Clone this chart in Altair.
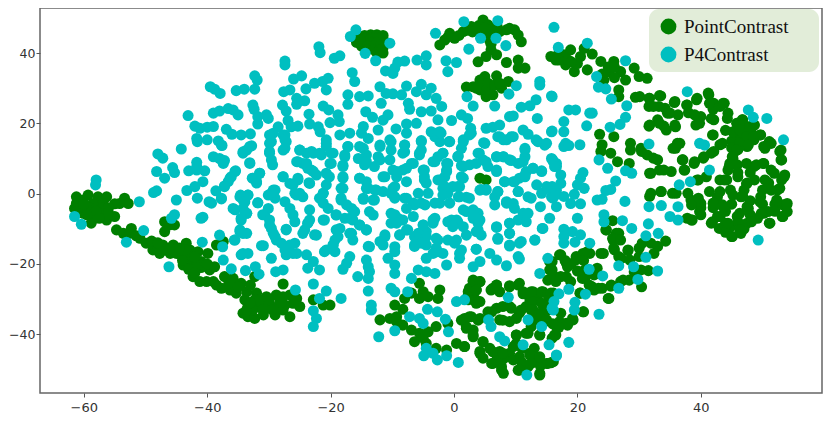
import altair as alt
import pandas as pd

cyan_west = [(-58,3.9),(-58.1,2.5),(-61.5,-6.5),(-60.4,-8.7),(-51,-2.3),(-45,-1.8),(-45.3,-6),(-45.8,-7),(-40.7,-6.7),(-41,-7),(-50.3,-10.5),(-53.1,-13.8),(-38,-11.8),(-37.5,-15.1),(-40.8,-13.8),(-37.4,-18.9),(-46.2,-20.8),(-36.1,-21.4),(-33.8,-21.9),(-32.2,-20.8),(-31.6,-22.9),(-34.5,-17.4),(-33.4,-17),(-29.6,-18.4),(-35.6,-13.2),(-34.7,-10.8),(-33.6,-11.3),(-34.5,-7.5),(-33.6,-5.6),(-35.5,-4.6),(-30.9,-14.8),(-30.7,-6),(-29.9,-8.9),(-29.3,-11.3),(-28.8,-13.2),(-28.9,-22.2)]
cyan_upper_left = [(-32.3,33.5),(-31.9,32.3),(-39.5,30.4),(-38.8,29.7),(-37.9,28.5),(-35.3,29.3),(-34,29.7),(-32.3,29.7),(-32.6,25.2),(-32.4,24),(-43.1,22.2),(-39,22.9),(-38,23.5),(-36.6,24.2),(-35.8,23.8),(-35,22.4),(-42,19.2),(-41.2,18.6),(-40,18.9),(-39,19.1),(-36.9,18.3),(-36,16.9),(-34.5,16.7),(-33,17),(-41.7,15.7),(-41.6,14.8),(-40,15.3),(-38.2,15),(-37.6,13.7),(-32.8,13.6),(-33.6,12.4),(-34.2,11.5),(-44.2,12.7),(-48,11.3),(-47.2,10.1),(-39,10.5),(-38,10),(-37.2,9.4),(-33.1,8.8),(-41.7,8.9),(-41.7,7.7),(-45.6,7.4),(-45.3,6),(-48.2,6.3),(-43,6.5),(-41.7,6.7),(-40.4,6.5),(-46.9,4.4),(-35.4,6.5),(-36.1,4.8),(-36.6,3.4),(-37.2,2.2),(-31.5,5.8),(-32.7,4.4),(-32,3),(-40.7,3.4),(-42,2),(-43.3,0.9),(-48.2,0.8),(-48.7,0.3),(-38.6,0.8),(-37.7,-1.5),(-34.6,-0.4),(-33.4,-0.4),(-34.2,-1.8),(-41.6,-1.3),(-39.7,-2.3),(-39.3,-2.7),(-31.8,-2.6),(-29.6,0.1),(-29,1),(-29,-1.3),(-31.8,19.8),(-30.4,22.4),(-30.1,21.4),(-28.5,19),(-29.3,17.2),(-29.6,14.8),(-29.9,12),(-29.6,9.6),(-29.4,8.2),(-31.8,21.9)]
cyan_top_middle = [(-15.9,46.6),(-16.8,44.7),(-10.4,42.8),(-14.4,39.9),(-12.7,37.8),(-21.9,41.8),(-21.7,40.1),(-19.4,38.5),(-18.5,39.2),(-27.4,37.7),(-27.4,36.6),(-3,45.6),(1.6,48.9),(7.1,49.2),(4.3,44.2),(6.8,44.2),(8.4,42.1),(2.4,41.1),(-1.3,37.8),(0.4,37.3),(-1,34.7),(-6,38),(-4.5,39.2),(-4.5,36.6),(-8,37.7),(-9.1,37.4),(-9.6,35.7),(-9.9,34.2),(-11.1,34.9),(-16.5,34.4),(-16.1,31.9),(-20.4,32.8),(-21.3,31.9),(-22.6,31.4),(-24,29.8),(-20.7,29.5),(-24.7,33.5),(-26,32.6),(-26.6,29.5),(-27.6,29),(-24.2,26.4),(-25.5,27.1),(-25.5,25.4),(-27.8,25.2),(-27.2,23.5),(-17.2,28.1),(-17.2,25.4),(-15.3,27.6),(-13.9,27.8),(-12,30.4),(-11,28.5),(-9.9,28.4),(-8.5,28.1),(-11.8,25.7),(-7.7,30.6),(-5.3,31.1),(-6.1,29),(-4.5,28.1),(-3.7,30),(-2.9,27.1),(-2,24.8),(-3.7,23.5),(-7.4,25.7),(-7.2,24),(-5.3,23.3),(-21.2,24.9),(-20.3,23.8),(-18.8,22.4),(-18.6,20.5),(-14.3,23.3),(-13.2,21.7),(-10.7,22.4),(-11.5,20.9),(-12.3,18.1),(-23.5,22.6),(-23.4,19.8),(-22,19),(-21.7,17.6),(-20.1,20.2),(-26.9,20.8),(-25.3,19.2),(-14.7,19.1),(-15,17.2),(-16.9,17.2),(-18.5,16.7),(-9.4,18.4),(-7.7,19.8),(-6.1,20),(-7.7,17.2),(-2.6,21),(-0.4,20.8),(1.2,22.4),(2.2,21.4),(2.7,18.6),(2.8,17.2),(-3.7,17.6),(-2.3,17.6),(-3.1,16.2),(-2.3,14.8),(-0.8,14.8),(5.2,18.6),(6.3,18.9),(7.4,19.5),(9.6,22.1),(9,21.9),(10.9,24.6),(12.3,25),(13.3,26.7),(8.9,28.3),(10.1,30.7),(2.1,27.6),(3.1,24.9),(6.6,24.9),(15.8,27.8),(13.9,31.9),(13.9,30.9),(13.5,21.4),(11.2,18.1),(12,16.9),(15.8,17.6),(13.3,15.3),(14.7,13.8),(7.4,16.2),(8.5,15.3),(9.6,16.2),(4.8,14.5),(1.5,14.8),(1.2,12.9)]
cyan_center = [(4.1,11.5),(4.7,9.6),(5.5,7.7),(6.9,10.5),(8,10.5),(9.3,9.4),(6.9,6.7),(0.7,10.7),(-1.8,11.5),(-2.6,10.5),(-3.4,9.1),(-1.2,8.6),(-1.2,6.7),(-1.5,4.8),(-2.6,3.9),(1.2,8),(2.5,8.2),(1.2,4.8),(0.9,2),(-0.2,2),(-1.8,1.5),(4.4,1.2),(5.2,1.2),(11.5,12.9),(11.5,10.5),(10.4,8.6),(11.7,6.3),(11.5,5.3),(12.8,7.2),(14.2,6.5),(15.8,10),(16.6,8.6),(8.2,3.4),(9.6,3.4),(10.6,4.4),(7.1,0.6),(6.6,-0.9),(10.4,0.6),(12,-0.9),(14.2,0.1),(15,2),(15.8,-0.9),(16.6,1),(2,-1),(0.7,-0.9),(-1,0.1),(-2.3,-2.7),(-4.2,0.1),(-5.8,0.1),(-6.6,-2.7),(-5.3,-2.7),(8.5,-2.3),(9.6,-2.8),(-26.4,19),(-27.4,16.7),(-27.2,14.8),(-27.4,12.9),(-25,12.4),(-25.5,9.1),(-24.5,8.6),(-23.7,7.2),(-22.8,6.3),(-23.1,12),(-21.5,11),(-20.7,15.3),(-20.7,13.4),(-19.9,11.5),(-19.9,8.6),(-20.2,4.8),(-21.2,0.1),(-21.2,-2.7),(-17.2,13.4),(-17.7,11),(-18,8.1),(-18,4.8),(-18.3,1.5),(-18.3,-1.8),(-15.3,13.4),(-13.9,15.7),(-14.2,11),(-15.5,10),(-14.5,8.2),(-12.9,7.7),(-12,13.8),(-12.3,10.5),(-10.4,15.3),(-10.2,12.4),(-10.4,9.6),(-8,13.8),(-8.3,11.5),(-5.3,15.1),(-5.6,11.5),(-6.9,8.6),(-8.3,6.7),(-9.9,6.7),(-11.2,4.8),(-5,6.7),(-4.8,4.8),(-4.5,3),(-7.7,3.4),(-9.3,4.8),(-9.9,1.5),(-9.6,-0.9),(-8,-1.3),(-15.3,4.4),(-14.2,3.4),(-13.9,1.5),(-12.6,1),(-14.7,-1.6),(-12.9,-1.8),(-27.7,4.8),(-26.1,2.5),(-25.3,4.4),(-25.5,-0.4),(-24.5,-0.9),(-23.4,2.9)]
cyan_band_left = [(-29.9,16.7),(-29.9,14.3),(-29.9,11.5),(-27.7,16.7),(-27.4,15.3),(-27.7,12.4),(-25,12.4),(-23.9,11.5),(-22.8,11.5),(-21.8,11.5),(-25.3,9.1),(-23.9,8.6),(-23.1,6.7),(-22.3,5.3),(-20.7,14.3),(-19.6,11.5),(-20.1,8.6),(-20.7,5.8),(-20.7,2.5),(-21.2,0.1),(-21.8,-1.3),(-20.4,-4.2),(-17.2,13.4),(-17.7,10.5),(-18,7.7),(-18,4.4),(-18,1.5),(-18.3,-1.3),(-17.4,-3.2),(-16.6,-4.2),(-14.7,12.9),(-14.2,9.1),(-12,13.4),(-12,9.6),(-15.3,4.4),(-14.2,1.5),(-12.8,1),(-11.5,4.8),(-14.7,-1.3),(-13.1,-1.8),(-11.5,0.6),(-13.7,-5.1),(-13.1,-6.1),(-19.1,-6.1),(-17.7,-7),(-16.4,-7.5),(-15.3,-8.9),(-14.2,-10.3),(-19.1,-10.3),(-19.3,-13.2),(-16.9,-11.3),(-16.4,-13.2),(-11.2,-12.2),(-11.5,-14.6),(-13.7,-15.1),(-21.2,-7.5),(-20.7,-16),(-19.6,-14.6),(-22.3,-11.8),(-23.4,-7.5),(-24.2,-10.3),(-23.7,-8.4),(-23.4,-4.6),(-25.8,0.1),(-25,0.1),(-26.6,2.9),(-25.3,3.9),(-23.5,3.1),(-27.7,4.8),(-27.4,-2.3),(-26.6,-4.2),(-26.1,-6),(-32.6,4.4),(-31.5,5.8),(-32,3.4),(-35.5,6.3),(-36.3,4.4),(-37.2,2),(-29.3,1),(-30.1,-0.4),(-34.7,-0.9),(-33.4,-0.4),(-33.9,-2.3),(-37.7,-1.3),(-31.8,-2.6),(-35.8,-4.2),(-34.2,-4.2),(-33.6,-5.6),(-34.5,-7),(-30.1,-4.2),(-31,-6),(-29.9,-7.5),(-29.6,-9.9),(-29,-12.2),(-27.2,-10.1),(-34.7,-10.3),(-34.2,-11.3),(-35.5,-13.2),(-31.2,-14.8),(-26.6,-14.6),(-27.4,-16),(-26.1,-17),(-19.3,-16.5),(-34.2,-17),(-33.1,8.6),(-33.1,13.4),(-34.2,11.9),(-37.4,8.6),(-37.7,13.8)]
cyan_band_right = [(-10.2,14.8),(-8,13.8),(-8,11.9),(-5.3,14.8),(-5.3,12.4),(-5.6,11),(-2.9,17.2),(-2.1,17.2),(-0.7,14.8),(-6.6,8.6),(-7.7,7.2),(-9.3,6.3),(-9.6,2),(-10.2,0.1),(-4.8,6.7),(-4.8,3.9),(-3.1,9.1),(-1.8,11.5),(-1,8.6),(-1.2,6.3),(-2.3,3.9),(-1.5,2),(-1.8,-0.4),(-0.7,-2.7),(0.6,10.5),(1.5,7.7),(3.6,8.6),(1.5,4.4),(0.6,2),(1.5,15.3),(2.5,16.7),(5,14.3),(3.9,11.5),(5.2,9.1),(6.9,6.3),(8,10.5),(9,9.6),(6.9,10.5),(7.1,16.2),(9.3,16.2),(8,15.3),(11.5,12.4),(11.2,9.1),(13.6,14.8),(15,14.3),(12.8,7.2),(14.2,6.3),(16,9.6),(16.6,7.7),(8.2,3.4),(9.8,3.4),(11.5,4.8),(4.2,1),(5.2,1),(7.1,0.6),(6.6,-3.2),(10.4,0.6),(0.9,-0.9),(2.5,-1.3),(13.4,2.5),(12.5,-1.3),(15.2,1.5),(16,-1.3),(16.6,-3.7),(8.5,-2.7),(9.8,-4.2),(11.2,-5.6),(14,-3.7),(15.5,-7),(1.5,-4.6),(3.1,-4.6),(3.9,-5.6),(3.1,-7),(3.9,-8.4),(3.9,-10.3),(2,-11.8),(-0.4,-7.5),(0.6,-8),(-3.1,-7),(-3.4,-8.4),(-4.7,-3.2),(-3.1,-2.7),(-6.4,-3.2),(-7.7,-1.3),(-9.6,-1.3),(-7.7,-4.2),(-10.2,-5.6),(-9.1,-7),(-10.2,-8.4),(-5,-8.9),(-4.5,-10.8),(-5.6,-12.2),(-6.4,-14.6),(-4.5,-14.6),(-2.9,-12.7),(-2.6,-16.5),(-8.8,-11.8),(-7.7,-10.3),(-6.4,-12.2),(0.1,-14.1),(0.9,-17),(3.6,-15.8),(6.9,-9.6),(7.1,-13),(9,-14.9),(10.9,-13.6),(13.1,-13.2),(14.3,-9.9),(9,-8.4),(10.4,-7.5),(12,-5.6),(9,-11.3),(-9.6,-15.1),(10.4,-17.9)]
cyan_right_upper = [(16.2,47.3),(16.9,41.6),(21.6,42.8),(27.8,37.8),(23.1,33.3),(23.4,30.3),(24.6,29.8),(25.5,26.9),(28,25),(15.9,27.6),(37.8,29),(18.6,23.8),(19.7,23.8),(22,22.9),(22.4,22.9),(27.8,21.7),(26.9,19.7),(25.3,18.9),(17.8,20.5),(17.8,17.6),(21.5,19.3),(15.9,17.8),(18.1,14.3),(17.8,13.4),(18.6,13.7),(20.4,13.9),(31.6,14.1),(47.7,23.8),(48.5,21.7),(50.7,21.4),(53.4,15.3),(39.8,14.3),(40.6,13.8),(23.5,9.6),(24.9,7.2),(27.8,6.5),(28.8,5.8),(26.2,3.6),(25.4,1.2),(24.6,0.9),(23.2,-1.8),(24,-1.6),(27.7,-2.2),(16.1,9.1),(16.3,7.7),(36.5,2.5),(38.3,3.4),(41.4,6.7),(20.9,6),(20.5,4.4),(20,2.5),(21.1,1.5),(19.5,-0.2),(17.3,5.3),(17.3,2.9),(17.8,-0.8),(18.9,-2.8),(20.5,-2.9),(31.6,-3.7),(33.6,-3.4),(36.3,-3.7),(15.9,2),(16.2,-0.8)]
cyan_lower_middle = [(-25.8,-8),(-27.2,-10.3),(-28,-14.1),(-23.7,-8.4),(-24.5,-11.3),(-22.6,-11.7),(-21,-7.5),(-25.8,-14.1),(-27.2,-16),(-27.2,-17.4),(-25.5,-17),(-23.9,-17.4),(-21,-16.5),(-22.8,-19.3),(-23.7,-21.2),(-21.8,-21.7),(-27.7,-21.7),(-18.5,-9.9),(-18.8,-12.2),(-19.6,-14.6),(-16.6,-11.3),(-16.9,-17.9),(-17.4,-19.8),(-18,-21.5),(-19.1,-6),(-16.9,-7),(-15.3,-8.9),(-14.2,-10.3),(-16.1,-5.1),(-11.2,-11.7),(-12,-13.6),(-13.9,-15),(-14.2,-18.9),(-13.9,-20.8),(-13.7,-22.2),(-15.6,-23.6),(-13.9,-24.1),(-9.6,-16.5),(-10.7,-18.4),(-9.6,-20.3),(-9.6,-22.7),(-8.8,-11.7),(-7.5,-10.3),(-5.8,-11.3),(-5,-8.9),(-6.4,-15),(-4.5,-12.2),(-5.3,-14.1),(-2.6,-13.2),(-2.9,-15.5),(-1.8,-17),(-4.5,-18.4),(-3.4,-17),(-5.8,-21.7),(-4.5,-22.2),(-3.1,-22.7),(-1.2,-20.3),(-6.9,-24.1),(-10.2,-26.9),(-9.6,-27.9),(-13.9,-27.7),(-13.4,-31.7),(-13.4,-33.1),(-9.6,-6),(-8.3,-7.5),(-9.3,-8.4),(-6.6,-6.5),(-3.4,-7.5),(-1,-8),(2,-5.1),(3.1,-6),(4.2,-7.5),(-1,-13.2),(0.4,-13.2),(0.4,-7.5),(-0.2,-9.4),(1.5,-9.4),(1.2,-16),(0.9,-18.4),(3.6,-10.8),(4.4,-11.8),(3.6,-15.8),(4.2,-19.3),(3.1,-20.8),(5.8,-17),(6.9,-18.9),(8.5,-20.5),(10.6,-18.6),(6.9,-9.4),(7.1,-12.7),(9,-14.6),(10.6,-14.1),(9,-8.4),(9,-11.3),(11.7,-8),(14.4,-9.9),(13.1,-13.2),(15.2,-18.4),(13.9,-22.7)]
cyan_bottom = [(-22.8,-25.7),(-20.7,-27.7),(-21.8,-29.8),(-18.3,-29.8),(-22.8,-33.3),(-22.3,-35.5),(-22.8,-37.8),(-25.7,-27.4),(-12.2,-40.7),(-9.6,-39),(-7.5,-27.9),(-4.3,-32.9),(-2.7,-33.6),(-7.2,-35),(-5.6,-35.5),(-5,-36.9),(-1.4,-35.7),(-0.9,-39.3),(-4.5,-44),(-4.9,-46.1),(-3.4,-45.4),(-2.7,-47.3),(-1.2,-46.1),(0.7,-48),(0.4,-30.7),(1.7,-30.2),(8.8,-29.5),(5.6,-35.9),(6,-37.8),(12,-35.9),(14.2,-37.8),(7.4,-40.7),(8.2,-41.9),(11.2,-43),(11.8,-51.6),(15.4,-43),(16.6,-45.9),(16.1,-33.1)]
cyan_lower_right = [(24.3,-6),(24.3,-8),(27.3,-7.7),(28.8,-9.9),(31.5,-8.6),(35,-6.5),(36.3,-7.5),(31.1,-12),(33.1,-11.3),(17.8,-10.1),(19.2,-10.8),(17.8,-12.2),(17.8,-14.1),(19.6,-13.8),(20.5,-11.7),(22,-14.1),(31.1,-18.1),(26.7,-20.5),(29.1,-20.8),(33,-22),(29.8,-24.4),(26.7,-26.9),(21.9,-21.5),(24.1,-23.4),(18.6,-27.2),(17,-28.5),(21.3,-28.6),(19.6,-30.9),(19.5,-33.1),(16.2,-30.7),(15.9,-32.6),(23.5,-34.3),(18.6,-42.3),(16.6,-46.1),(49.3,-13.2),(20,-7)]

green_top_blob = [(-14.5,45),(-13.5,45.2),(-12.5,45.2),(-11.5,45),(-15.5,44),(-14.5,44),(-13.5,44),(-12.5,44),(-11.5,44),(-15.8,43),(-14.8,43),(-13.5,43),(-12.5,43),(-11.3,43),(-15,42),(-14,42),(-13,42),(-12,42),(-11.5,41.5),(-14,41),(-13,41),(-12,41),(-12.5,40),(-11.5,40)]
green_top_arc = [(-2.3,42.3),(-1.5,43.7),(-0.7,45.6),(0.1,44.2),(1.5,46.1),(2.8,47.5),(3.6,46.6),(4.7,49.4),(5.5,48),(6.3,47),(7.4,46.1),(8.5,46.6),(9.8,46.6),(10.4,45.1),(10.9,43.2),(6,45.6),(5,45.6),(6,40.9),(6.9,39.5),(5.2,39),(3.9,37.5),(8.5,37.3),(10.4,38),(10.4,35.7),(11.5,35.7),(2,30.3),(3.1,30.4),(4.2,32.3),(5,33.3),(6.9,33.5),(8.8,31.9),(7.7,30),(5.2,27.6),(6.3,28.1),(4.2,29.5),(5.8,30.4),(4.2,31.4),(5.5,31.4),(6.6,30.9),(7.4,31.4),(5,29),(3.6,30),(4.2,4.4),(5.2,3.9),(0.8,45),(2.2,46.5),(4,47.8),(7,47.5),(9,47),(3,46),(5,47),(5.8,43.5),(6,42.5),(-1,44.5)]
green_west = [(-61.2,-0.9),(-59.3,-0.4),(-57.7,-0.9),(-56.3,-0.9),(-53.4,-1.3),(-52.8,-2.8),(-54.2,-2.8),(-55,-2.9),(-61.2,-2.8),(-60.1,-1.8),(-58.5,-2.8),(-56.9,-2.8),(-61.5,-4.2),(-61.2,-5.1),(-60.1,-5.6),(-58.8,-6.5),(-58.8,-8.4),(-57.4,-5.6),(-56.3,-7.5),(-55,-6.5),(-54.7,-10.3),(-53.6,-11.3),(-52.3,-9.9),(-60,-4),(-59,-4),(-58,-4),(-57,-4),(-56,-4),(-60,-3),(-58,-5),(-56,-5.5),(-59.5,-6),(-57.5,-7)]
green_tail = [(-52.6,-11.3),(-50.9,-12.7),(-49.9,-14.1),(-48.8,-16),(-47.7,-17),(-46.6,-16),(-47.2,-14.6),(-45.5,-14.6),(-46.9,-8),(-46.1,-8.9),(-46.9,-10.8),(-45.3,-8.9),(-43.4,-14.1),(-44.2,-17),(-45,-15.5),(-42.8,-16),(-41.5,-16.5),(-39.9,-17),(-43.9,-20.3),(-42.3,-19.8),(-41,-19.3),(-39.6,-21.7),(-38.8,-20.8),(-42.3,-23.6),(-41.2,-25),(-40.1,-25),(-38.5,-26),(-37.7,-26.9),(-36.3,-27.4),(-35.3,-28.3),(-37.2,-23.6),(-35.8,-24.1),(-34.5,-25.5),(-33.6,-27.9),(-38.5,-14.6),(-37.4,-13.6),(-32.3,-23.6),(-47,-16),(-46,-17),(-45,-17),(-44,-18),(-43,-18),(-42,-18),(-43.5,-16),(-44,-19),(-48,-15.5),(-41,-21),(-40,-20),(-51.5,-12),(-49,-13.5),(-48,-14),(-46,-15.5),(-44.5,-15.5),(-42,-21),(-43,-21.5),(-42,-22.5),(-39,-25),(-36.5,-25.5),(-35,-26.5),(-33,-26)]
green_sw_blob = [(-33.9,-30.2),(-33.4,-32.1),(-32,-28.3),(-30.4,-29.3),(-29.9,-31.2),(-28.8,-28.8),(-34.2,-34),(-33.4,-35),(-32.3,-35.5),(-30.9,-34.5),(-29,-34.5),(-32,-32.1),(-32.6,-33.1),(-30.9,-32.1),(-28.5,-32.1),(-32.3,-30.2),(-33.6,-33.1),(-31.5,-30.2),(-27.7,-25.7),(-27.7,-29.3),(-26.6,-28.8),(-25.5,-29.8),(-25,-32.1),(-26.1,-31.2),(-27.4,-31.7),(-26.6,-35),(-27.7,-33.1),(-28.25,-30.2),(-22.8,-30.2),(-21.2,-31.7),(-20.1,-31.7),(-31,-33),(-29.5,-33),(-30,-30),(-28,-31),(-33,-31)]
green_bottom = [(-12,-35.9),(-10.4,-35.5),(-9.3,-35),(-9.6,-31.7),(-8.3,-32.9),(-8,-29.8),(-6.9,-28.3),(-5.6,-25.5),(-5,-27.9),(-5.6,-29.8),(-4.2,-29.3),(-2.3,-27.4),(-2.6,-29.8),(-8.3,-37.4),(-6.9,-38.8),(-5.6,-39.7),(-6.4,-42.1),(-5,-41.1),(-4.2,-39.3),(-2.9,-37.8),(-1,-36.9),(-4.5,-42.6),(-2.9,-44),(-1.2,-44.5),(0.4,-42.6),(1.7,-43.5),(-9.3,-36.4),(3.1,-25),(4.2,-25),(2.5,-26.9),(3.6,-27.4),(2.3,-28.8),(3.3,-29.8),(4.2,-30.7),(3.6,-31.2),(6.9,-26),(6,-27.4),(7.4,-27.9),(9,-26.5),(10.4,-26),(11.2,-27.9),(12.8,-27.9),(14.4,-27.9),(16.1,-28.3),(12.3,-30.2),(13.6,-30.2),(15.2,-30.7),(12.8,-33.1),(14.4,-34),(11.7,-32.1),(13.3,-35.9),(15,-35.9),(12.5,-37.8),(1.7,-35.5),(2.8,-35),(4.2,-35.5),(2,-37.8),(3.1,-38.8),(3.1,-40.7),(5.5,-33.6),(6.9,-32.6),(9,-32.1),(10.6,-34),(9,-36.4),(7.4,-35.9),(4.2,-44.9),(4.7,-46.8),(5.8,-44),(7.4,-44.9),(6.3,-48.3),(7.7,-49.2),(8,-51.1),(9,-45.4),(10.1,-40.2),(11.7,-39.7),(9.6,-43.5),(10.6,-46.4),(12.3,-45.4),(13.3,-46.8),(10.4,-50.2),(12,-49.2),(13.9,-51.1),(15,-48.3),(16.1,-47.8),(13.9,-40.2),(4.7,-42.1),(11,-44),(13,-44),(11,-48),(8,-47),(7,-47),(14,-49)]
green_bottom_extra = [(3.1,-24.6),(4.2,-25),(2.3,-27.9),(3.6,-27.4),(3.9,-30.7),(2.3,-30.2),(6.3,-26.9),(6.9,-26),(9,-26.2),(10.6,-25.5),(11.2,-28.5),(12.5,-27.9),(14.2,-27.9),(15.2,-28.8),(12.8,-30.7),(14.2,-31.2),(12.5,-33.1),(13.9,-34),(15.2,-33.1),(13.1,-35.5),(14.7,-36.4),(16.3,-40.2),(16.6,-37.8),(13.9,-40.2),(17.1,-36.4),(18.2,-36.9),(19.3,-35.9),(20.9,-33.6),(15.2,-24.6),(16.3,-23.6),(15.5,-19.3),(15.5,-21.7),(17.1,-17.4),(18.2,-19.8),(18.2,-23.6),(19.8,-17.9),(20.9,-17),(22,-17),(24.2,-17),(21.2,-21.7),(21.2,-24.1),(22.3,-26.4),(23.4,-26.9),(25.5,-26),(27.4,-24.6),(25,-29.8),(25.8,-13.2),(24.7,-10.3),(26.3,-11.3),(26,-16),(27.1,-18.4),(28.2,-16),(20.4,-28.3),(1.2,-36),(2.5,-35),(3.9,-36),(6.1,-33.6),(7.9,-32.1),(9.3,-32.6),(7.9,-36),(10.1,-35.5),(10.9,-33.1),(2,-38.3),(3.1,-40.2),(1.7,-43.5),(4.7,-42.1),(4.2,-45.4),(6.3,-45),(6.1,-48.3),(7.7,-50.2),(7.9,-45.4),(10.1,-40.2),(12,-39.7),(10.1,-42.6),(9.6,-47.3),(12.3,-45.9),(10.6,-50.2),(13.9,-46.4),(15.2,-48.3),(13.9,-51.6),(12.5,-48.3)]
green_se = [(25.7,-7.7),(24.6,-10.3),(26.7,-11.3),(25.7,-12.7),(27,-13.2),(25.9,-15.5),(26.7,-17.9),(17.3,-17.4),(20.8,-17.4),(19.7,-18.9),(21.6,-16.5),(23.8,-17),(18.4,-20.8),(15.9,-19.3),(15.9,-21.7),(17.3,-23.6),(18.9,-25),(20.8,-24.1),(21.9,-26),(22.7,-23.1),(23.2,-21.2),(22.7,-27.4),(24,-26.9),(25.1,-29.8),(25.4,-26.3),(27,-25),(28.4,-24.6),(20.5,-28.3),(29.2,-22.2),(30.3,-21.7),(31.5,-21.9),(28.5,-18.9),(28.2,-16.2),(30.4,-26.5),(30,-15.5),(30.5,-14.1),(31.9,-14.1),(33,-15),(34.3,-13.5),(32.4,-17),(30,-17.9),(15.7,-28.3),(21,-33.6),(17.3,-34),(19.2,-35.5),(18.4,-37.4),(17,-36.9),(16.5,-40.2),(15.9,-41.1),(15.7,-48.1),(19,-20),(20,-22),(16.5,-25),(18,-19),(22,-22),(21,-19),(17,-38),(16,-37)]
green_ne = [(15.7,39),(17.8,39.5),(18.9,40.9),(19.5,34.7),(18.1,36.6),(20.5,39),(21.1,41.3),(22.4,39.7),(21.6,35.2),(23.8,37.6),(25.9,37.6),(25.1,34.7),(27,34.7),(27.8,32.3),(29.2,35.7),(30,33.3),(31.3,32.8),(26.7,29.5),(26.7,27.6),(24.3,32.3),(29.4,27.4),(31.6,27.1),(31.6,24.8),(33.5,27.8),(33.2,24.8),(35.7,25.9),(34.6,22.9),(31.6,19.2),(34,19.2),(35.9,19),(37.8,25.2),(39.4,27.1),(41.3,28.1),(42.1,25.7),(43.8,25.7),(40,21.9),(39.2,19.5),(42.1,21),(44.3,21.4),(46.7,21),(45.9,17.6),(48.1,18.1),(48.6,15.3),(49.7,16.7),(47.5,13.4),(41.9,16.7),(36.2,14.3),(35.9,12.9),(50.2,13.4),(51.1,14.8),(53,12.4),(53,9.6),(46,19),(47,16),(46,15),(45.5,12),(42,24),(38,23),(33,21),(17,38),(18.5,38),(20,37),(19,37.5),(17,40),(16.5,38),(24,34),(26,33),(25,36),(26,36),(47,19),(47,14),(45,15),(46,12.5),(45,13),(44,18)]
green_ne_extra = [(30.1,27.6),(31.7,27.1),(33.3,27.9),(32.3,24.8),(35.8,26.2),(35,22.9),(34.2,24.3),(31.7,19.5),(33.3,20),(34.4,18.1),(35.8,19.5),(36.3,22.4),(37.7,25.2),(39.3,26.7),(41.2,28.6),(41.4,25.7),(39,22.4),(39.8,20),(41.7,21.4),(43.1,24.8),(44.4,22.9),(43.6,25.7),(42,16.7),(45.8,20),(46.8,21),(45.2,17.6),(46.3,18.1),(47.9,19.1),(47.4,16.2),(48.5,16.2),(46.3,14.3),(45.8,12.4),(45.2,10.1),(49.6,16.7),(48.7,19.5),(47.7,13.9),(50.4,12.9),(51.4,14.3),(52.8,12),(53.1,9.6),(35.5,12.9),(36.6,14.3),(37.1,9.6),(37.4,6.7),(39,9.1),(40.4,10.1),(41.7,11.5),(43.1,13.9)]
green_e = [(23.6,16.9),(24,13.9),(25.9,16.2),(28.6,14.3),(28.6,12.4),(25.4,11.5),(23.8,12),(30.3,12.9),(31.3,11),(33,9.6),(26.5,9.1),(28.4,8.6),(31.9,5.8),(34,6.7),(37,9.6),(37.3,6.7),(38.9,8.6),(40.5,10.5),(42.1,12),(43.5,14.3),(45.1,10.5),(44.6,7.7),(43.8,3.9),(47.5,3),(45.9,8.2),(48.6,7.7),(50.2,8.6),(51.9,5.8),(53.5,4.8),(39.4,3.9),(31.9,0.1),(33.5,0.6),(35.4,0.1),(38.4,-1.8),(40,-2.8),(42.7,-0.9),(44.8,1),(46.5,-0.9),(49.7,-0.9),(52.4,1),(54,-2.8),(43.5,-3.2),(47.5,-3.7),(38.6,-7.5),(37.8,-7),(40,-6),(41.9,-8),(43,-9.9),(44,-8.4),(45.1,-12.2),(46.5,-11.3),(47.5,-8.4),(49.2,-7),(51.1,-8.4),(53.2,-6.5),(54,-5.1),(45.9,-6.5),(50.2,-5.6),(42.7,-6.5),(44.8,-9.4),(46,6),(48,6),(51,3),(50,1),(47,1),(48,-2),(45,-3),(46,-8),(48,-6),(50,-3),(52,-3),(52,-5),(42,-4),(40,-4),(44,-11),(47,-10),(44,-5)]
green_e_extra = [(30.4,12),(32.3,10.1),(31.7,5.8),(33.3,6.7),(35.2,6.3),(39.6,3.9),(40.9,4.8),(43.1,3.9),(44.2,3.9),(44.4,6.7),(44.7,8.6),(46,4.8),(47.4,8.6),(49,8.2),(50.1,8.6),(51.4,6.7),(53.1,3.9),(53.6,5.3),(31.7,-0.8),(33.6,0.6),(36,0.1),(37.9,0.1),(39.6,-1.3),(41.4,0.6),(43.1,0.6),(45.2,-0.4),(46.8,-0.8),(51.4,1),(52.8,1.5),(48.7,3.9),(50.4,3.9),(38.5,-3.2),(39.8,-5.1),(38.5,-7.5),(42,-2.7),(41.7,-8.4),(43.1,-6.5),(44.4,-8.4),(45,-12.2),(46.3,-5.6),(46.3,-10.3),(47.7,-4.2),(48.2,-8),(49.6,-2.3),(51.2,-8.4),(50.9,-5.1),(53.3,-3.2),(53.9,-3.2),(53.3,-6.5),(52.3,-1.8),(49.8,-5.6),(47.4,2.8),(43.6,-3.7)]

series_names = ["PointContrast", "P4Contrast"]
green_groups = [green_top_blob, green_top_arc, green_west, green_tail, green_sw_blob, green_bottom, green_bottom_extra, green_se, green_ne, green_ne_extra, green_e, green_e_extra]
cyan_groups = [cyan_west, cyan_upper_left, cyan_top_middle, cyan_center, cyan_band_left, cyan_band_right, cyan_right_upper, cyan_lower_middle, cyan_bottom, cyan_lower_right]

rows = []
for g in green_groups:
    rows += [{"x": a, "y": b, "series": series_names[0]} for a, b in g]
for g in cyan_groups:
    rows += [{"x": a, "y": b, "series": series_names[1]} for a, b in g]
df = pd.DataFrame(rows)

points = alt.Chart(df).mark_circle(size=122, opacity=1).encode(
    x=alt.X("x:Q", scale=alt.Scale(domain=[-67.1, 59.64], nice=False, zero=False),
            axis=alt.Axis(values=[-60, -40, -20, 0, 20, 40], title=None, grid=False, domain=False,
                          tickColor="#555555", tickSize=4, labelColor="#333333",
                          labelFont="DejaVu Sans", labelFontSize=13, labelPadding=4)),
    y=alt.Y("y:Q", scale=alt.Scale(domain=[-56.7, 52.8], nice=False, zero=False),
            axis=alt.Axis(values=[-40, -20, 0, 20, 40], title=None, grid=False, domain=False,
                          tickColor="#555555", tickSize=4, labelColor="#333333",
                          labelFont="DejaVu Sans", labelFontSize=12.5, labelPadding=1)),
    color=alt.Color("series:N", scale=alt.Scale(domain=series_names, range=["#007f00", "#00bfc0"]),
                    legend=alt.Legend(title=None, orient="none", legendX=610, legendY=0,
                                      padding=9, symbolSize=250, symbolType="circle",
                                      labelFont="Liberation Serif", labelFontSize=19,
                                      labelColor="#111111", rowPadding=8, labelOffset=6,
                                      symbolStrokeWidth=0)),
    order=alt.Order("series:N", sort="descending"),
)

legend_box = alt.Chart(pd.DataFrame({"box": [0]})).mark_rect(
    color="#e2edd9", cornerRadius=10
).encode(x=alt.value(609), x2=alt.value(779), y=alt.value(1), y2=alt.value(64))

chart = alt.layer(points, legend_box).properties(
    width=782, height=385,
    autosize=alt.AutoSizeParams(type="none", contains="content"),
    padding={"left": 32, "top": 0, "right": 1, "bottom": 20},
).configure_view(stroke="#666666", strokeWidth=1.5)

chart.save("out.html", embed_options={"renderer": "svg", "actions": False})
